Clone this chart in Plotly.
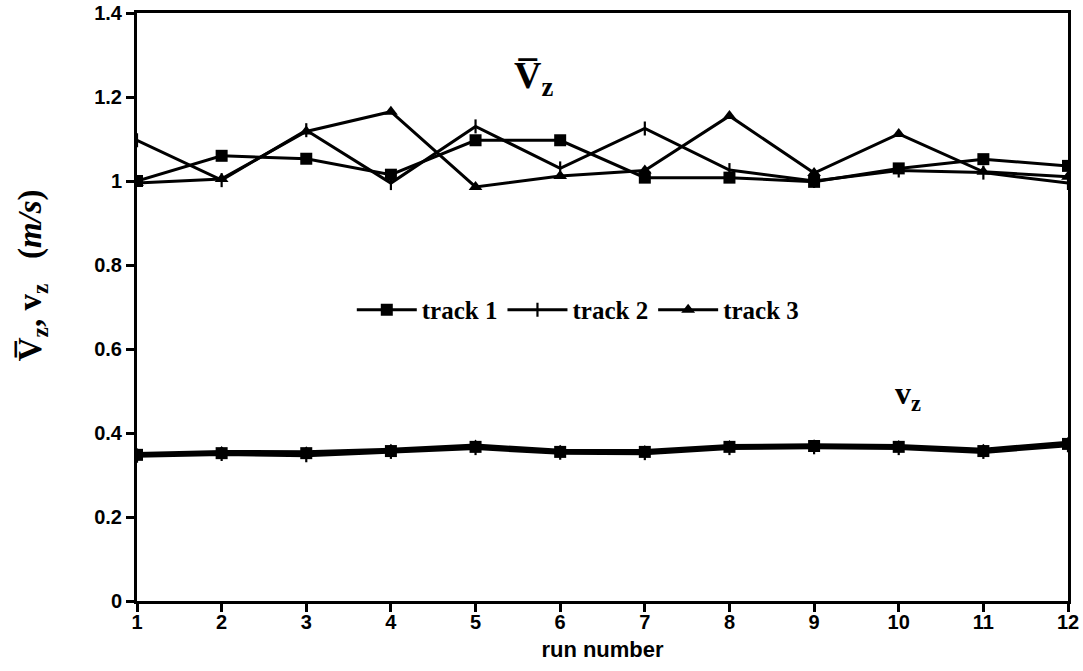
import plotly.graph_objects as go

# run numbers along the x axis
runs = list(range(1, 13))

# mean axial velocity per track (upper group, m/s)
vbar_track1 = [1.000, 1.060, 1.053, 1.015, 1.097, 1.097, 1.008, 1.008, 0.998, 1.030, 1.052, 1.036]
vbar_track2 = [1.097, 1.002, 1.121, 0.995, 1.130, 1.030, 1.125, 1.026, 1.000, 1.025, 1.020, 0.995]
vbar_track3 = [0.995, 1.005, 1.118, 1.165, 0.986, 1.012, 1.025, 1.155, 1.019, 1.112, 1.022, 1.010]

# fluctuating axial velocity per track (lower group, m/s)
v_track1 = [0.348, 0.352, 0.352, 0.357, 0.367, 0.355, 0.355, 0.367, 0.369, 0.367, 0.357, 0.374]
v_track2 = [0.346, 0.350, 0.347, 0.355, 0.364, 0.353, 0.352, 0.364, 0.366, 0.364, 0.355, 0.371]
v_track3 = [0.350, 0.355, 0.354, 0.360, 0.370, 0.358, 0.357, 0.369, 0.371, 0.369, 0.360, 0.377]

y_ticks = [0, 0.2, 0.4, 0.6, 0.8, 1.0, 1.2, 1.4]
y_tick_text = ["0", "0.2", "0.4", "0.6", "0.8", "1", "1.2", "1.4"]

BLACK = "#000000"
LINE_W = 3.0

styles = [
    ("track 1", dict(symbol="square", size=12)),
    ("track 2", dict(symbol="line-ns", size=10, line=dict(width=2.2, color=BLACK))),
    ("track 3", dict(symbol="triangle-up", size=12)),
]

fig = go.Figure()

upper = [vbar_track1, vbar_track2, vbar_track3]
lower = [v_track1, v_track2, v_track3]

for (name, mk), ys in zip(styles, upper):
    fig.add_trace(go.Scatter(
        x=runs, y=ys, mode="lines+markers", name=name,
        line=dict(color=BLACK, width=LINE_W),
        marker=dict(color=BLACK, **mk),
    ))

for (name, mk), ys in zip(styles, lower):
    fig.add_trace(go.Scatter(
        x=runs, y=ys, mode="lines+markers", name=name, showlegend=False,
        line=dict(color=BLACK, width=LINE_W + 1),
        marker=dict(color=BLACK, **mk),
    ))

serif = "Liberation Serif"
sans = "Liberation Sans Narrow, Liberation Sans, Arial, sans-serif"

# curve-group labels
fig.add_annotation(x=5.68, y=1.245, xref="x", yref="y", showarrow=False,
                   text="V\u0305<sub>z</sub>",
                   font=dict(family=serif, size=38, color=BLACK, weight="bold"))
fig.add_annotation(x=10.11, y=0.49, xref="x", yref="y", showarrow=False,
                   text="v<sub>z</sub>",
                   font=dict(family=serif, size=32, color=BLACK, weight="bold"))

# y-axis title, placed as a rotated paper-anchored annotation
fig.add_annotation(x=-0.1128, y=0.554, xref="paper", yref="paper", showarrow=False,
                   textangle=-90, xanchor="center", yanchor="middle",
                   text="V\u0305<sub>z</sub>, v<sub>z</sub>   (<i>m/s</i>)",
                   font=dict(family=serif, size=33, color=BLACK, weight="bold"))

fig.update_layout(
    width=1083, height=671,
    margin=dict(l=137, r=15, t=13, b=70),
    paper_bgcolor="white", plot_bgcolor="white",
    showlegend=True,
    legend=dict(
        orientation="h", x=0.474, y=0.495, xanchor="center", yanchor="middle",
        font=dict(family=serif, size=25, color=BLACK, weight="bold"),
        bgcolor="rgba(0,0,0,0)", itemwidth=60, tracegroupgap=0,
    ),
    xaxis=dict(
        range=[1, 12], tickvals=runs, ticks="outside", ticklen=8, tickwidth=2.5,
        tickcolor=BLACK, showline=True, linecolor=BLACK, linewidth=3, mirror=True,
        showgrid=False, zeroline=False, automargin=False, ticklabelstandoff=-7,
        tickfont=dict(family=sans, size=20, color=BLACK, weight="bold"),
        title=dict(text="run number", standoff=10,
                   font=dict(family=sans, size=22, color=BLACK, weight="bold")),
    ),
    yaxis=dict(
        range=[0, 1.4], tickvals=y_ticks, ticktext=y_tick_text, ticks="outside",
        ticklen=8, tickwidth=2.5, tickcolor=BLACK, showline=True, linecolor=BLACK,
        linewidth=3, mirror=True, showgrid=False, zeroline=False, automargin=False,
        tickfont=dict(family=sans, size=20, color=BLACK, weight="bold"),
    ),
)

fig.write_html("out.html")
